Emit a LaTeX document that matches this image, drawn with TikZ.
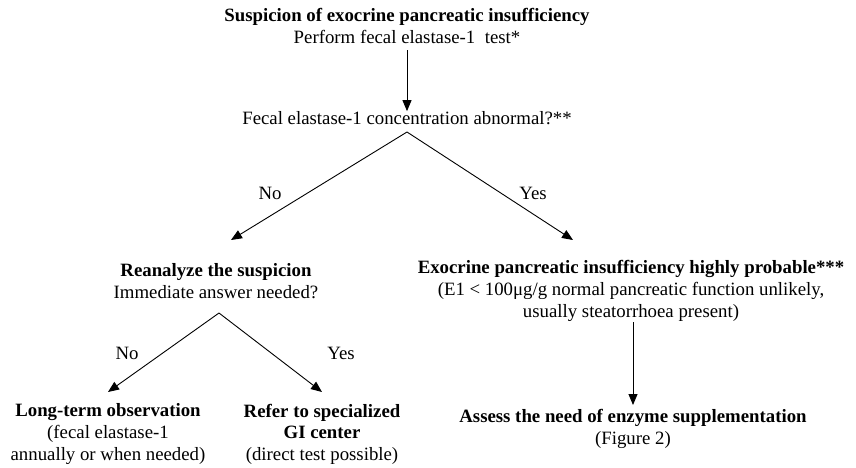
\documentclass[tikz,border=0pt]{standalone}
\usepackage{fontspec}
\setmainfont{Liberation Serif}
\usetikzlibrary{arrows.meta}
\begin{document}
\begin{tikzpicture}[x=1pt,y=-1pt,
  txt/.style={align=center,inner sep=0pt,font=\fontsize{18.8}{21.6}\selectfont},
  lbl/.style={inner sep=0pt,font=\fontsize{18.8}{21.6}\selectfont},
  arr/.style={-{Triangle[length=11pt,width=9pt]},line width=0.9pt},
  ln/.style={line width=0.9pt}]
\useasboundingbox[fill=white] (0,0) rectangle (856,467);
\node[txt] (top) at (407,26) {\textbf{Suspicion of exocrine pancreatic insufficiency}\\Perform fecal elastase-1\ \ test*};
\node[txt] (fecal) at (407,118) {Fecal elastase-1 concentration abnormal?**};
\coordinate (a1) at (407,132);
\coordinate (t1) at (231,240);
\coordinate (t2) at (573,240);
\node[txt] (re) at (216,281) {\textbf{Reanalyze the suspicion}\\Immediate answer needed?};
\node[txt] (epi) at (631,291) {\textbf{Exocrine pancreatic insufficiency highly probable***}\\(E1 < 100μg/g normal pancreatic function unlikely,\\usually steatorrhoea present)};
\coordinate (a2) at (219,313);
\coordinate (t3) at (108,392);
\coordinate (t4) at (322,392);
\node[txt] (lt) at (108,434) {\textbf{Long-term observation}\\(fecal elastase-1\\annually or when needed)};
\node[txt] (gi) at (322,434) {\textbf{Refer to specialized}\\\textbf{GI center}\\(direct test possible)};
\node[txt] (as) at (633,429) {\textbf{Assess the need of enzyme supplementation}\\(Figure 2)};
\node[lbl] (no1) at (270,193) {No};
\node[lbl] (yes1) at (533,193) {Yes};
\node[lbl] (no2) at (127,353) {No};
\node[lbl] (yes2) at (341,353) {Yes};
\coordinate (s1) at (407,50);
\coordinate (s2) at (633,322);
\coordinate (e2) at (633,405);
\draw[arr] (s1) -- (fecal.north);
\draw[arr] (a1) -- (t1);
\draw[arr] (a1) -- (t2);
\draw[arr] (a2) -- (t3);
\draw[arr] (a2) -- (t4);
\draw[arr] (s2) -- (e2);
\end{tikzpicture}
\end{document}
